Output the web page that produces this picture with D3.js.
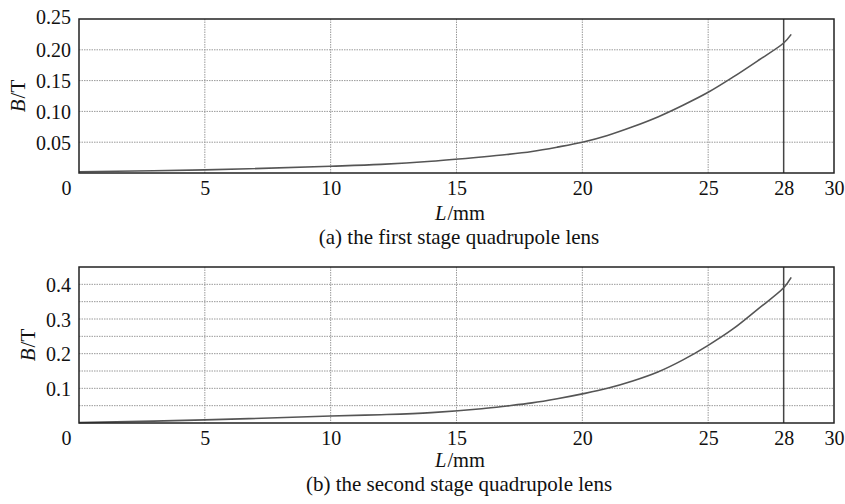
<!DOCTYPE html>
<html>
<head>
<meta charset="utf-8">
<script src="https://cdn.jsdelivr.net/npm/d3@7"></script>
<style>
  body { margin: 0; background: #fff; }
  svg text { font-family: "Liberation Serif", "Times New Roman", serif; fill: #111; }
  .grid line { stroke: #9a9a9a; stroke-width: 1; stroke-dasharray: 1.5 1; }
</style>
</head>
<body>
<div id="chart"></div>
<script>
const FONT = "Liberation Serif, Times New Roman, serif";

// L positions along the lens (mm)
const lengths = [0, 5, 10, 12, 14, 16, 17, 18, 19, 20, 21, 22, 23, 24, 25, 26, 27, 28, 28.3];
// B field, first stage (T)
const fieldFirst = [0.002, 0.005, 0.011, 0.014, 0.019, 0.026, 0.03, 0.035, 0.042, 0.05, 0.061, 0.075, 0.091, 0.11, 0.131, 0.156, 0.183, 0.211, 0.225];
// B field, second stage (T)
const fieldSecond = [0.001, 0.009, 0.02, 0.024, 0.03, 0.041, 0.049, 0.058, 0.07, 0.084, 0.1, 0.121, 0.147, 0.182, 0.224, 0.272, 0.33, 0.39, 0.42];

const xTicks = [0, 5, 10, 15, 20, 25, 28, 30];
const xGrid = [5, 10, 15, 20, 25];
const markerL = 28;

const yTicksFirst = [0.05, 0.10, 0.15, 0.20, 0.25];
const yGridFirst = [0.05, 0.10, 0.15, 0.20];
const yTicksSecond = [0.1, 0.2, 0.3, 0.4];
const yGridSecond = [0.05, 0.1, 0.15, 0.2, 0.25, 0.3, 0.35, 0.4];

const captions = ["(a) the first stage quadrupole lens", "(b) the second stage quadrupole lens"];

const width = 845, height = 504;
const svg = d3.select("#chart").append("svg")
    .attr("width", width)
    .attr("height", height);

const x = d3.scaleLinear().domain([0, 30]).range([79, 834]);

function drawPanel(opts) {
  const y = d3.scaleLinear().domain(opts.yDomain).range(opts.yRange);
  const g = svg.append("g");
  const [x0, x1] = x.range();
  const [yb, yt] = opts.yRange;

  // dotted grid
  const grid = g.append("g").attr("class", "grid");
  grid.selectAll(".h").data(opts.yGrid).join("line")
      .attr("x1", x0).attr("x2", x1)
      .attr("y1", d => y(d)).attr("y2", d => y(d));
  grid.selectAll(".v").data(xGrid).join("line")
      .attr("x1", d => x(d)).attr("x2", d => x(d))
      .attr("y1", yt).attr("y2", yb);

  // marker line at L = 28
  g.append("line")
      .attr("x1", x(markerL)).attr("x2", x(markerL))
      .attr("y1", yt).attr("y2", yb)
      .attr("stroke", "#444").attr("stroke-width", 1.5);

  // curve
  const line = d3.line()
      .x((d, i) => x(lengths[i]))
      .y(d => y(d))
      .curve(d3.curveCatmullRom.alpha(0.5));
  g.append("path")
      .datum(opts.values)
      .attr("d", line)
      .attr("fill", "none")
      .attr("stroke", "#555")
      .attr("stroke-width", 1.6);

  // frame
  g.append("rect")
      .attr("x", x0).attr("y", yt)
      .attr("width", x1 - x0).attr("height", yb - yt)
      .attr("fill", "none").attr("stroke", "#222").attr("stroke-width", 1.5);

  // x tick labels
  const xAxis = d3.axisBottom(x).tickValues(xTicks).tickSize(0).tickPadding(0)
      .tickFormat(d3.format("d"));
  const xa = g.append("g").attr("transform", `translate(0,${opts.xLabelY})`).call(xAxis)
      .attr("font-family", FONT).attr("font-size", 20);
  xa.select(".domain").remove();
  xa.selectAll("text")
      .attr("dy", 0)
      .attr("dx", d => d === 0 ? -13 : 0);

  // y tick labels
  const yAxis = d3.axisLeft(y).tickValues(opts.yTicks).tickSize(0).tickPadding(8)
      .tickFormat(opts.yFormat);
  const ya = g.append("g").attr("transform", `translate(${x0},0)`).call(yAxis)
      .attr("font-family", FONT).attr("font-size", 20);
  ya.select(".domain").remove();
  ya.selectAll("text").attr("dy", "0.35em");
  ya.selectAll(".tick").filter(d => d === 0.25)
      .select("text").attr("dy", "0.2em");

  // y title
  const yTitle = g.append("text")
      .attr("transform", `translate(${opts.yTitleX},${(yt + yb) / 2}) rotate(-90)`)
      .attr("text-anchor", "middle")
      .attr("dy", "0.35em")
      .attr("font-size", 21);
  yTitle.append("tspan").attr("font-style", "italic").text("B");
  yTitle.append("tspan").attr("dx", 1).text("/T");

  // x title
  const xTitle = g.append("text")
      .attr("x", 460).attr("y", opts.xTitleY)
      .attr("text-anchor", "middle")
      .attr("font-size", 20.5);
  xTitle.append("tspan").attr("font-style", "italic").text("L");
  xTitle.append("tspan").attr("dx", 1).text("/mm");

  // caption
  g.append("text")
      .attr("x", 459).attr("y", opts.captionY)
      .attr("text-anchor", "middle")
      .attr("font-size", 21)
      .text(opts.caption);
}

drawPanel({
  values: fieldFirst,
  yDomain: [0, 0.25],
  yRange: [173, 19],
  yTicks: yTicksFirst,
  yGrid: yGridFirst,
  yFormat: d3.format(".2f"),
  yTitleX: 18,
  xLabelY: 195,
  xTitleY: 220,
  captionY: 244,
  caption: captions[0]
});

drawPanel({
  values: fieldSecond,
  yDomain: [0, 0.45],
  yRange: [423, 267],
  yTicks: yTicksSecond,
  yGrid: yGridSecond,
  yFormat: d3.format(".1f"),
  yTitleX: 28,
  xLabelY: 445,
  xTitleY: 467,
  captionY: 491,
  caption: captions[1]
});
</script>
</body>
</html>
